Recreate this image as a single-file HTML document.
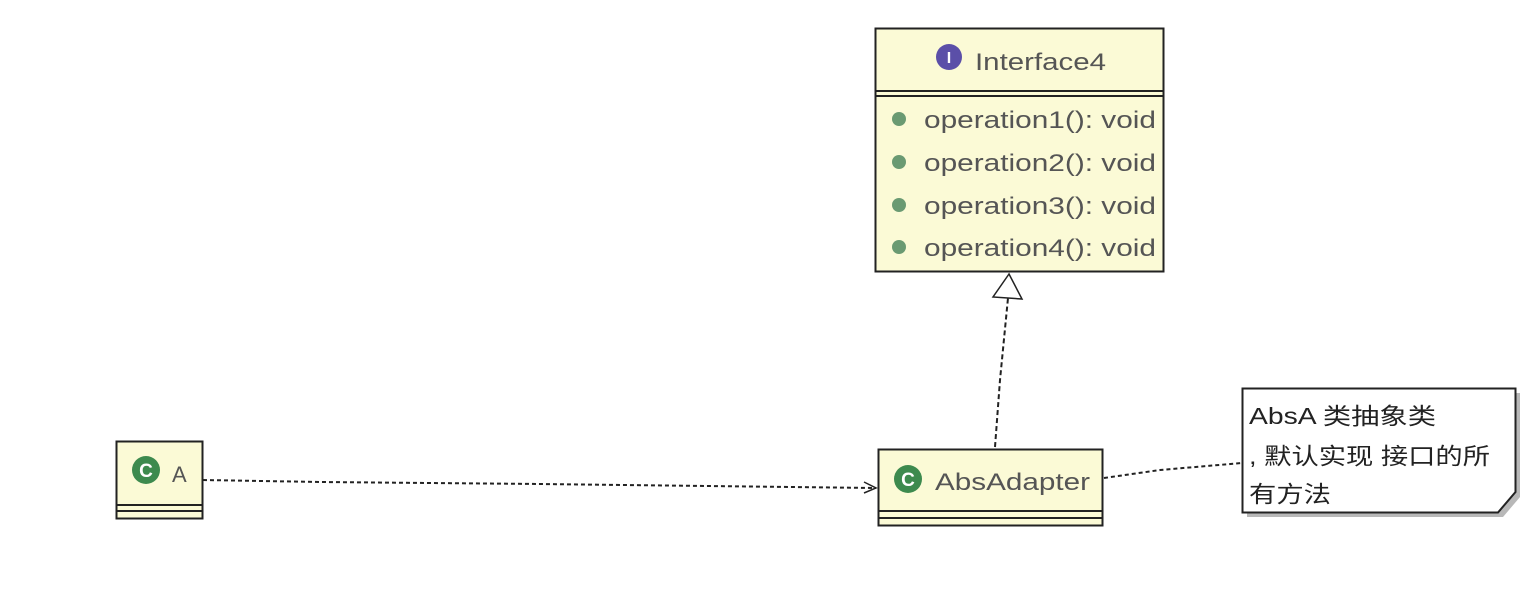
<!DOCTYPE html>
<html><head><meta charset="utf-8"><style>
html,body{margin:0;padding:0;background:#fff;}
text{font-family:"Liberation Sans","Noto Sans CJK SC",sans-serif;}
</style></head><body>
<svg width="1528" height="590" xmlns="http://www.w3.org/2000/svg">
<rect width="1528" height="590" fill="#fff"/>
<!-- Interface4 -->
<rect x="875.5" y="28.5" width="288" height="243" fill="#fbfad6" stroke="#222" stroke-width="2"/>
<line x1="875" y1="91" x2="1164" y2="91" stroke="#222" stroke-width="2"/>
<line x1="875" y1="96" x2="1164" y2="96" stroke="#222" stroke-width="2"/>
<circle cx="949" cy="57" r="13" fill="#5b4fa8"/>
<text x="949" y="63" font-size="16" font-weight="bold" fill="#fff" text-anchor="middle">I</text>
<text x="975" y="70" font-size="24" fill="#555" textLength="131" lengthAdjust="spacingAndGlyphs">Interface4</text>
<g font-size="24" fill="#555">
<circle cx="899" cy="119" r="7" fill="#6a9a72"/><text x="924" y="128" textLength="232" lengthAdjust="spacingAndGlyphs">operation1(): void</text>
<circle cx="899" cy="162" r="7" fill="#6a9a72"/><text x="924" y="171" textLength="232" lengthAdjust="spacingAndGlyphs">operation2(): void</text>
<circle cx="899" cy="205" r="7" fill="#6a9a72"/><text x="924" y="214" textLength="232" lengthAdjust="spacingAndGlyphs">operation3(): void</text>
<circle cx="899" cy="247" r="7" fill="#6a9a72"/><text x="924" y="256" textLength="232" lengthAdjust="spacingAndGlyphs">operation4(): void</text>
</g>
<!-- A -->
<rect x="116.5" y="441.5" width="86" height="77" fill="#fbfad6" stroke="#222" stroke-width="2"/>
<line x1="116" y1="505" x2="203" y2="505" stroke="#222" stroke-width="2"/>
<line x1="116" y1="511" x2="203" y2="511" stroke="#222" stroke-width="2"/>
<circle cx="146" cy="470" r="14" fill="#3d8a4e"/>
<text x="146" y="477" font-size="19" font-weight="bold" fill="#fff" text-anchor="middle">C</text>
<text x="172" y="482" font-size="22" fill="#555">A</text>
<!-- AbsAdapter -->
<rect x="878.5" y="449.5" width="224" height="76" fill="#fbfad6" stroke="#222" stroke-width="2"/>
<line x1="878" y1="511" x2="1103" y2="511" stroke="#222" stroke-width="2"/>
<line x1="878" y1="518" x2="1103" y2="518" stroke="#222" stroke-width="2"/>
<circle cx="908" cy="479" r="14" fill="#3d8a4e"/>
<text x="908" y="486" font-size="19" font-weight="bold" fill="#fff" text-anchor="middle">C</text>
<text x="935" y="490" font-size="24" fill="#555" textLength="155" lengthAdjust="spacingAndGlyphs">AbsAdapter</text>
<!-- Note -->
<polygon points="1247,393 1520,393 1520,497 1503,517 1247,517" fill="#888" opacity="0.6"/>
<polygon points="1242.5,388.5 1515.5,388.5 1515.5,492 1498,512.5 1242.5,512.5" fill="#fff" stroke="#222" stroke-width="2"/>
<g font-size="23" fill="#222">
<text x="1249" y="424" textLength="187" lengthAdjust="spacingAndGlyphs">AbsA 类抽象类</text>
<text x="1249" y="464" textLength="241" lengthAdjust="spacingAndGlyphs">, 默认实现 接口的所</text>
<text x="1249" y="502" textLength="82" lengthAdjust="spacingAndGlyphs">有方法</text>
</g>
<!-- connectors -->
<path d="M203,480 L320,482 L540,484 L876,488" fill="none" stroke="#222" stroke-width="2" stroke-dasharray="4,3"/>
<path d="M864,482 L876,488 L864,493" fill="none" stroke="#222" stroke-width="1.5"/>
<path d="M995,447 L1000,380 L1008,298" fill="none" stroke="#222" stroke-width="2" stroke-dasharray="5,3"/>
<polygon points="1009,274 993,297 1022,299" fill="#fff" stroke="#222" stroke-width="1.5"/>
<path d="M1104,478 L1160,470 L1242,463" fill="none" stroke="#222" stroke-width="2" stroke-dasharray="4,3"/>
</svg>
</body></html>
